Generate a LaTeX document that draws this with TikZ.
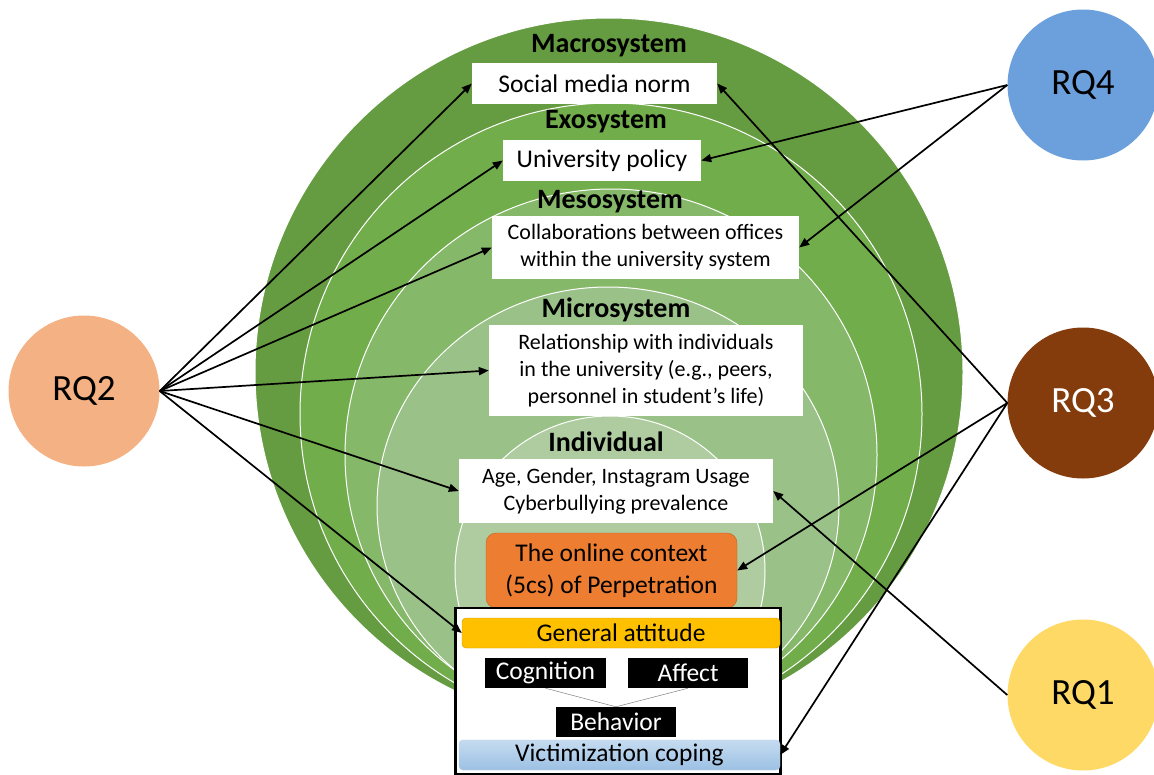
\documentclass[tikz,border=0pt]{standalone}
\usepackage{fontspec}
\setmainfont{Carlito}
\usetikzlibrary{arrows.meta}
\definecolor{macrogreen}{HTML}{669C41}
\definecolor{exogreen}{HTML}{72AD4C}
\definecolor{mesogreen}{HTML}{86B86A}
\definecolor{microgreen}{HTML}{9AC288}
\definecolor{indivgreen}{HTML}{AECCA0}
\definecolor{rqone}{HTML}{FFD966}
\definecolor{rqtwo}{HTML}{F4B183}
\definecolor{rqthree}{HTML}{843C0C}
\definecolor{rqfour}{HTML}{6CA0DC}
\definecolor{ctxorange}{HTML}{ED7D31}
\definecolor{attgold}{HTML}{FFC000}
\definecolor{copetop}{HTML}{C5DCF0}
\definecolor{copebot}{HTML}{9CC0E4}
\begin{document}
\begin{tikzpicture}
[x=1pt,y=-1pt,
 ring/.style={draw=white,line width=1pt},
 lvl/.style={font=\fontsize{28}{32}\selectfont\bfseries},
 wbox/.style={fill=white,inner sep=0pt,align=center,font=\fontsize{22}{27}\selectfont},
 bigtxt/.style={font=\fontsize{25.5}{30}\selectfont},
 bbox/.style={fill=black,text=white,inner sep=0pt,minimum height=30pt,bigtxt},
 rq/.style={circle,inner sep=0pt,minimum size=151pt,font=\fontsize{37}{44}\selectfont},
 arr/.style={line width=1.7pt,-{Triangle[length=10pt,width=8pt]}}]
  \useasboundingbox (0,0) rectangle (1154,774);
  % nested systems
  \draw[ring,fill=macrogreen] (609,372) circle [radius=354];
  \draw[ring,fill=exogreen] (611,414) circle [radius=311];
  \draw[ring,fill=mesogreen] (611,455) circle [radius=266];
  \draw[ring,fill=microgreen] (608,506) circle [x radius=231, y radius=219];
  \draw[ring,fill=indivgreen] (610,571) circle [radius=155];
  \node[lvl] (macrolbl) at (609,46) {Macrosystem};
  \node[lvl] (exolbl) at (606,122) {Exosystem};
  \node[lvl] (mesolbl) at (610,202) {Mesosystem};
  \node[lvl] (microlbl) at (616,310) {Microsystem};
  \node[lvl] (indivlbl) at (606,442) {Individual};
  \node[wbox,minimum width=245pt,minimum height=41pt,bigtxt] (norm) at (594.5,83.5) {Social media norm};
  \node[wbox,minimum width=198pt,minimum height=41pt,bigtxt] (policy) at (602,160.5) {University policy};
  \node[wbox,minimum width=307pt,minimum height=63pt] (collab) at (645.5,247.5) {Collaborations between offices\\within the university system};
  \node[wbox,minimum width=314pt,minimum height=91pt] (relation) at (646,370.5) {Relationship with individuals\\in the university (e.g., peers,\\personnel in student’s life)};
  \node[wbox,minimum width=314pt,minimum height=64pt] (age) at (616,491) {Age, Gender, Instagram Usage\\Cyberbullying prevalence};
  \node[draw=ctxorange!80!black,fill=ctxorange,rounded corners=10pt,inner sep=0pt,align=center,
        minimum width=251pt,minimum height=75pt,font=\fontsize{25.5}{32}\selectfont] (context) at (611.5,570.5) {The online context\\(5cs) of Perpetration};
  % attitude frame
  \node[draw,fill=white,line width=2.5pt,minimum width=325pt,minimum height=166pt] (frame) at (618,691) {};
  \node[draw=attgold!80!black,fill=attgold,rounded corners=4pt,inner sep=0pt,minimum width=318pt,minimum height=30pt,
        bigtxt] (attitude) at (621,633) {General attitude};
  \node[bbox,minimum width=121pt] (cognition) at (545.5,673) {Cognition};
  \node[bbox,minimum width=120pt] (affect) at (688,673) {Affect};
  \node[bbox,minimum width=120pt] (behavior) at (616,722) {Behavior};
  \draw[gray,line width=0.5pt] (cognition.south) -- (behavior.north) -- (affect.south);
  \node[draw=copebot!80,top color=copetop,bottom color=copebot,rounded corners=4pt,inner sep=0pt,
        minimum width=321pt,minimum height=30pt,bigtxt] (coping) at (619.5,755) {Victimization coping};
  % research questions
  \node[rq,fill=rqtwo] (rq2) at (84,391) {RQ2};
  \node[rq,fill=rqfour] (rq4) at (1083,85) {RQ4};
  \node[rq,fill=rqthree,text=white] (rq3) at (1083,403) {RQ3};
  \node[rq,fill=rqone] (rq1) at (1083,695) {RQ1};
  \foreach \from/\to in {rq2.east/norm.west,rq2.east/policy.west,rq2.east/collab.west,rq2.east/relation.west,
      rq2.east/age.west,rq2.east/attitude.west,rq4.west/policy.east,rq4.west/collab.east,
      rq3.west/norm.east,rq3.west/context.east,rq3.west/coping.east,rq1.west/age.east}
  \draw[arr] (\from) -- (\to);
\end{tikzpicture}
\end{document}
